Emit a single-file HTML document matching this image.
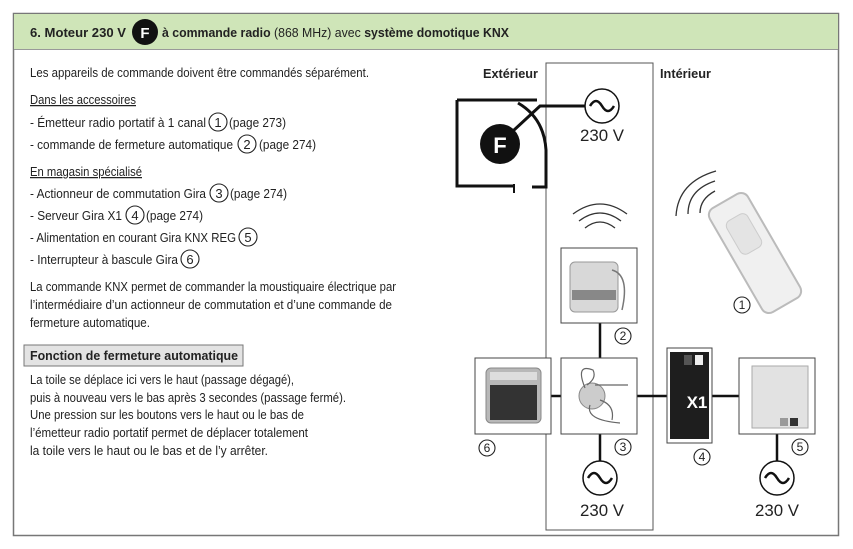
<!DOCTYPE html>
<html><head><meta charset="utf-8"><style>
html,body{margin:0;padding:0;background:#fff}
svg{display:block}
text{font-family:"Liberation Sans",sans-serif;fill:#222}
</style></head><body>
<svg width="853" height="549" viewBox="0 0 853 549" xmlns="http://www.w3.org/2000/svg">
<rect x="13.5" y="13.5" width="825" height="522" fill="#fff" stroke="#777" stroke-width="1.5"/>
<rect x="14" y="14" width="824" height="35" fill="#cfe5b8"/>
<line x1="14" y1="49.5" x2="838" y2="49.5" stroke="#999"/>
<text x="30" y="37" font-size="13" font-weight="bold" textLength="96" lengthAdjust="spacingAndGlyphs">6.  Moteur 230 V</text>
<circle cx="145" cy="32" r="13" fill="#111"/>
<text x="145" y="38" font-size="15" font-weight="bold" text-anchor="middle" style="fill:#fff">F</text>
<text x="162" y="37" font-size="13" textLength="347" lengthAdjust="spacingAndGlyphs"><tspan font-weight="bold">à commande radio</tspan> (868 MHz) avec <tspan font-weight="bold">système domotique KNX</tspan></text>

<g font-size="12.5">
<text x="30" y="77" textLength="339" lengthAdjust="spacingAndGlyphs">Les appareils de commande doivent être commandés séparément.</text>
<text x="30" y="104" textLength="106" lengthAdjust="spacingAndGlyphs" text-decoration="underline">Dans les accessoires</text>
<text x="30" y="127" textLength="176" lengthAdjust="spacingAndGlyphs">-  Émetteur radio portatif à 1 canal</text>
<text x="229" y="127" textLength="57" lengthAdjust="spacingAndGlyphs">(page 273)</text>
<text x="30" y="149" textLength="203" lengthAdjust="spacingAndGlyphs">-  commande de fermeture automatique</text>
<text x="259" y="149" textLength="57" lengthAdjust="spacingAndGlyphs">(page 274)</text>
<text x="30" y="176" textLength="112" lengthAdjust="spacingAndGlyphs" text-decoration="underline">En magasin spécialisé</text>
<text x="30" y="198" textLength="176" lengthAdjust="spacingAndGlyphs">-  Actionneur de commutation Gira</text>
<text x="230" y="198" textLength="57" lengthAdjust="spacingAndGlyphs">(page 274)</text>
<text x="30" y="220" textLength="92" lengthAdjust="spacingAndGlyphs">-  Serveur Gira X1</text>
<text x="146" y="220" textLength="57" lengthAdjust="spacingAndGlyphs">(page 274)</text>
<text x="30" y="242" textLength="206" lengthAdjust="spacingAndGlyphs">-  Alimentation en courant Gira KNX REG</text>
<text x="30" y="264" textLength="148" lengthAdjust="spacingAndGlyphs">-  Interrupteur à bascule Gira</text>
<text x="30" y="291" textLength="366" lengthAdjust="spacingAndGlyphs">La commande KNX permet de commander la moustiquaire électrique par</text>
<text x="30" y="309" textLength="362" lengthAdjust="spacingAndGlyphs">l’intermédiaire d’un actionneur de commutation et d’une commande de</text>
<text x="30" y="327" textLength="120" lengthAdjust="spacingAndGlyphs">fermeture automatique.</text>
<text x="30" y="384" textLength="264" lengthAdjust="spacingAndGlyphs">La toile se déplace ici vers le haut (passage dégagé),</text>
<text x="30" y="402" textLength="316" lengthAdjust="spacingAndGlyphs">puis à nouveau vers le bas après 3 secondes (passage fermé).</text>
<text x="30" y="419" textLength="274" lengthAdjust="spacingAndGlyphs">Une pression sur les boutons vers le haut ou le bas de</text>
<text x="30" y="437" textLength="278" lengthAdjust="spacingAndGlyphs">l’émetteur radio portatif permet de déplacer totalement</text>
<text x="30" y="455" textLength="238" lengthAdjust="spacingAndGlyphs">la toile vers le haut ou le bas et de l’y arrêter.</text>
</g>
<g fill="none" stroke="#222" stroke-width="1.1">
<circle cx="218" cy="122" r="9"/><circle cx="247" cy="144" r="9"/><circle cx="219" cy="193" r="9"/><circle cx="135" cy="215" r="9"/><circle cx="248" cy="237" r="9"/><circle cx="190" cy="259" r="9"/>
</g>
<g font-size="13" text-anchor="middle">
<text x="218" y="127">1</text><text x="247" y="149">2</text><text x="219" y="198">3</text><text x="135" y="220">4</text><text x="248" y="242">5</text><text x="190" y="264">6</text>
</g>
<rect x="24" y="345" width="219" height="21" fill="#e3e3e3" stroke="#777"/>
<text x="30" y="360" font-size="12.5" font-weight="bold" textLength="208" lengthAdjust="spacingAndGlyphs">Fonction de fermeture automatique</text>

<rect x="546" y="63" width="107" height="467" fill="none" stroke="#555" stroke-width="1"/>
<text x="483" y="78" font-size="13" font-weight="bold" textLength="55" lengthAdjust="spacingAndGlyphs">Extérieur</text>
<text x="660" y="78" font-size="13" font-weight="bold" textLength="51" lengthAdjust="spacingAndGlyphs">Intérieur</text>
<g fill="none" stroke="#111" stroke-width="3">
<path d="M457 100 V186 H515"/>
<path d="M457 100 H537"/>
<path d="M518 103 Q544 118 546 150 V187 H532"/>
<path d="M514 184 V193" stroke-width="2"/>
<path d="M500 143 L540 106 H593"/>
</g>
<circle cx="500" cy="144" r="20" fill="#111"/>
<text x="500" y="153" font-size="22" font-weight="bold" text-anchor="middle" style="fill:#fff">F</text>
<g fill="#fff" stroke="#111" stroke-width="1.5">
<circle cx="602" cy="106" r="17"/><circle cx="600" cy="478" r="17"/><circle cx="777" cy="478" r="17"/>
</g>
<g fill="none" stroke="#111" stroke-width="2.5">
<path d="M590 106 q6 -10 12 0 t12 0"/><path d="M588 478 q6 -10 12 0 t12 0"/><path d="M765 478 q6 -10 12 0 t12 0"/>
<line x1="600" y1="323" x2="600" y2="358"/><line x1="600" y1="434" x2="600" y2="461"/><line x1="777" y1="434" x2="777" y2="461"/>
<line x1="551" y1="396" x2="561" y2="396"/><line x1="637" y1="396" x2="667" y2="396"/><line x1="712" y1="396" x2="739" y2="396"/>
</g>
<g font-size="17" text-anchor="middle">
<text x="602" y="141" textLength="44" lengthAdjust="spacingAndGlyphs">230 V</text><text x="602" y="516" textLength="44" lengthAdjust="spacingAndGlyphs">230 V</text><text x="777" y="516" textLength="44" lengthAdjust="spacingAndGlyphs">230 V</text>
</g>
<g fill="none" stroke="#333" stroke-width="1.3">
<path d="M585 228 q15 -12 30 0"/><path d="M579 221 q21 -16 42 0"/><path d="M573 214 q27 -20 54 0"/>
<path d="M700 213 q0 -14 15 -22"/><path d="M688 214 q0 -24 27 -33"/><path d="M676 216 q2 -34 40 -45"/>
</g>
<g fill="#fff" stroke="#444" stroke-width="1">
<rect x="561" y="248" width="76" height="75"/>
<rect x="561" y="358" width="76" height="76"/>
<rect x="475" y="358" width="76" height="76"/>
<rect x="667" y="348" width="45" height="95"/>
<rect x="739" y="358" width="76" height="76"/>
</g>
<rect x="570" y="262" width="48" height="50" rx="5" fill="#d8d8d8" stroke="#999"/>
<rect x="572" y="290" width="44" height="10" fill="#888"/>
<path d="M612 270 q18 5 10 40" fill="none" stroke="#777" stroke-width="1.5"/>
<circle cx="592" cy="396" r="13" fill="#ccc" stroke="#888"/>
<path d="M585 388 q-10 -25 8 -18 q4 8 -6 15 M595 385 H628 M590 405 q-5 15 30 18 M600 400 q15 5 12 20" fill="none" stroke="#666" stroke-width="1.2"/>
<rect x="486" y="368" width="55" height="55" rx="5" fill="#b8b8b8" stroke="#888"/>
<rect x="490" y="385" width="47" height="35" fill="#333"/>
<rect x="490" y="372" width="47" height="8" fill="#ddd"/>
<rect x="670" y="352" width="39" height="87" fill="#1e1e1e"/>
<rect x="684" y="355" width="8" height="10" fill="#555"/><rect x="695" y="355" width="8" height="10" fill="#eee"/>
<text x="697" y="408" font-size="17" font-weight="bold" text-anchor="middle" style="fill:#fff">X1</text>
<rect x="752" y="366" width="56" height="62" fill="#e2e2e2" stroke="#aaa"/>
<rect x="780" y="418" width="8" height="8" fill="#999"/><rect x="790" y="418" width="8" height="8" fill="#333"/>
<g transform="rotate(-30 755 253)">
<rect x="733" y="193" width="44" height="120" rx="8" fill="#f0f0f0" stroke="#bbb" stroke-width="2"/>
<rect x="743" y="212" width="24" height="38" rx="6" fill="#e4e4e4" stroke="#ccc"/>
</g>
<g fill="none" stroke="#222" stroke-width="1.1">
<circle cx="742" cy="305" r="8"/><circle cx="623" cy="336" r="8"/><circle cx="623" cy="447" r="8"/><circle cx="487" cy="448" r="8"/><circle cx="702" cy="457" r="8"/><circle cx="800" cy="447" r="8"/>
</g>
<g font-size="12" text-anchor="middle">
<text x="742" y="309">1</text><text x="623" y="340">2</text><text x="623" y="451">3</text><text x="702" y="461">4</text><text x="800" y="451">5</text><text x="487" y="452">6</text>
</g>
</svg>
</body></html>
